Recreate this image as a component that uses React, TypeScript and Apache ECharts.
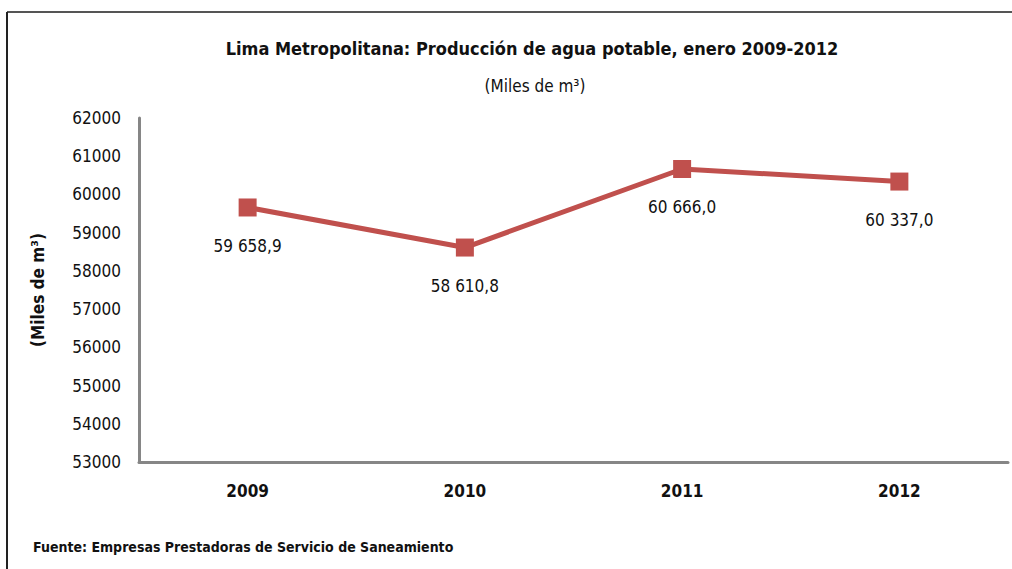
import React, { useEffect, useRef } from "react";
import * as echarts from "echarts";

const categories = ["2009", "2010", "2011", "2012"];
const values = [59658.9, 58610.8, 60666.0, 60337.0];
const yMin = 53000;
const yMax = 62000;
const yInterval = 1000;

const FONT = "'Liberation Sans Narrow', 'DejaVu Sans Condensed', 'Liberation Sans', sans-serif";

const fmt = (v: number) => {
  const [i, d] = v.toFixed(1).split(".");
  return i.replace(/\B(?=(\d{3})+(?!\d))/g, " ") + "," + d;
};

export default function App() {
  const ref = useRef<HTMLDivElement>(null);
  useEffect(() => {
    if (!ref.current) return;
    const chart = echarts.init(ref.current, undefined, { renderer: "svg" });
    chart.setOption({
      animation: false,
      backgroundColor: "#ffffff",
      textStyle: { fontFamily: FONT },
      title: [
        {
          text: "Lima Metropolitana: Producción de agua potable, enero 2009-2012",
          left: 527,
          textAlign: "center",
          top: 34,
          textStyle: { fontFamily: FONT, fontSize: 18, fontWeight: "bold", color: "#111" },
        },
        {
          text: "(Miles de m³)",
          left: 530,
          textAlign: "center",
          top: 72,
          textStyle: { fontFamily: FONT, fontSize: 17, fontWeight: "normal", color: "#111" },
        },
        {
          text: "Fuente: Empresas Prestadoras de Servicio de Saneamiento",
          left: 28,
          top: 535,
          textStyle: { fontFamily: FONT, fontSize: 14, fontWeight: "bold", color: "#111" },
        },
      ],
      graphic: [
        { type: "line", shape: { x1: 7, y1: 12, x2: 1012, y2: 12 }, style: { stroke: "#555", lineWidth: 2 } },
        { type: "line", shape: { x1: 7, y1: 12, x2: 7, y2: 569 }, style: { stroke: "#222", lineWidth: 2 } },
      ],
      grid: { left: 139, right: 4, top: 118, bottom: 107 },
      xAxis: {
        type: "category",
        data: categories,
        boundaryGap: true,
        axisLine: { lineStyle: { color: "#868686", width: 3 } },
        axisTick: { show: false },
        axisLabel: { fontFamily: FONT, fontSize: 17, fontWeight: "bold", color: "#111", margin: 20 },
      },
      yAxis: {
        type: "value",
        min: yMin,
        max: yMax,
        interval: yInterval,
        name: "(Miles de m³)",
        nameLocation: "middle",
        nameRotate: 90,
        nameGap: 93,
        nameTextStyle: { fontFamily: FONT, fontSize: 17, fontWeight: "bold", color: "#111" },
        axisLine: { show: true, lineStyle: { color: "#868686", width: 3 } },
        axisTick: { show: false },
        splitLine: { show: false },
        axisLabel: {
          fontFamily: FONT,
          fontSize: 17,
          color: "#111",
          margin: 18,
          formatter: (v: number) => String(v),
        },
      },
      series: [
        {
          type: "line",
          data: values,
          symbol: "rect",
          symbolSize: 18,
          lineStyle: { color: "#C0504D", width: 5 },
          itemStyle: { color: "#C0504D" },
          label: {
            show: true,
            position: "bottom",
            distance: 21,
            fontFamily: FONT,
            fontSize: 17,
            color: "#111",
            formatter: (p: any) => fmt(p.value),
          },
        },
      ],
    });
    return () => chart.dispose();
  }, []);
  return (
    <div
      ref={ref}
      style={{ position: "fixed", left: 0, top: 0, width: 1012, height: 569 }}
    />
  );
}
